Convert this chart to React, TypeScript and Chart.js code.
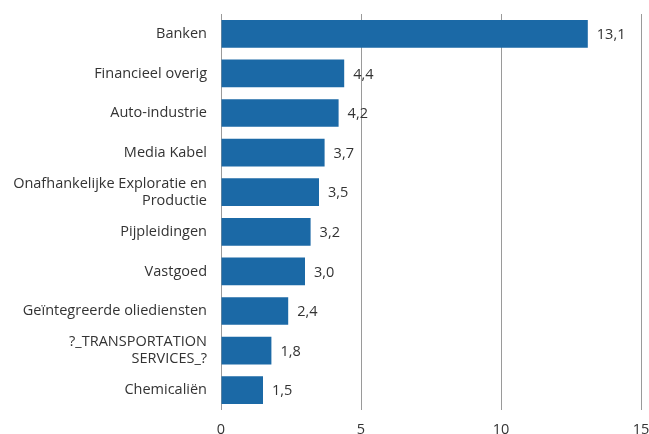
import React, { useEffect, useRef } from "react";
import { Chart, registerables } from "chart.js";

Chart.register(...registerables);

const categories: (string | string[])[] = [
  "Banken",
  "Financieel overig",
  "Auto-industrie",
  "Media Kabel",
  ["Onafhankelijke Exploratie en", "Productie"],
  "Pijpleidingen",
  "Vastgoed",
  "Geïntegreerde oliediensten",
  ["?_TRANSPORTATION", "SERVICES_?"],
  "Chemicaliën",
];
const values = [13.1, 4.4, 4.2, 3.7, 3.5, 3.2, 3.0, 2.4, 1.8, 1.5];
const xTicks = [0, 5, 10, 15];

const FONT = "'Open Sans', 'Noto Sans', sans-serif";
const SIZE = 14.5;
const TEXT = "#333333";
const BAR = "#1b69a6";

const valueLabels = {
  id: "valueLabels",
  afterDatasetsDraw(chart: any) {
    const ctx = chart.ctx;
    const meta = chart.getDatasetMeta(0);
    ctx.save();
    ctx.font = `${SIZE}px ${FONT}`;
    ctx.fillStyle = TEXT;
    ctx.textAlign = "left";
    ctx.textBaseline = "middle";
    meta.data.forEach((bar: any, i: number) => {
      const txt = values[i].toFixed(1).replace(".", ",");
      ctx.fillText(txt, bar.x + 9, bar.y + 1);
    });
    ctx.restore();
  },
};

export default function App() {
  const ref = useRef<HTMLCanvasElement | null>(null);
  useEffect(() => {
    if (!ref.current) return;
    const chart = new Chart(ref.current, {
      type: "bar",
      data: {
        labels: categories,
        datasets: [
          {
            data: values,
            backgroundColor: BAR,
            barPercentage: 0.7,
            categoryPercentage: 1,
          },
        ],
      },
      options: {
        indexAxis: "y",
        animation: false,
        responsive: false,
        maintainAspectRatio: false,
        layout: { padding: { top: 14, right: 8, left: 0, bottom: 0 } },
        plugins: { legend: { display: false }, tooltip: { enabled: false } },
        scales: {
          x: {
            min: 0,
            max: 15,
            afterBuildTicks: (scale: any) => {
              scale.ticks = xTicks.map((v) => ({ value: v }));
            },
            grid: {
              color: "#9a9a9a",
              lineWidth: 1,
              drawTicks: false,
            },
            border: { display: false },
            ticks: {
              color: TEXT,
              font: { family: FONT, size: SIZE },
              padding: 11,
              maxRotation: 0,
            },
            afterFit: (scale: any) => {
              scale.height = 24;
              scale.paddingLeft = 0;
              scale.paddingRight = 0;
            },
          },
          y: {
            grid: { display: false, drawTicks: false },
            border: { display: false },
            ticks: {
              color: TEXT,
              font: { family: FONT, size: SIZE },
              padding: 14,
              autoSkip: false,
            },
            afterFit: (scale: any) => {
              scale.width = 221;
              scale.paddingTop = 0;
              scale.paddingBottom = 0;
            },
          },
        },
      },
      plugins: [valueLabels],
    });
    return () => chart.destroy();
  }, []);
  return (
    <div style={{ position: "absolute", left: 0, top: 0, width: 649, height: 434, background: "#fff" }}>
      <canvas ref={ref} width={649} height={434} />
    </div>
  );
}
